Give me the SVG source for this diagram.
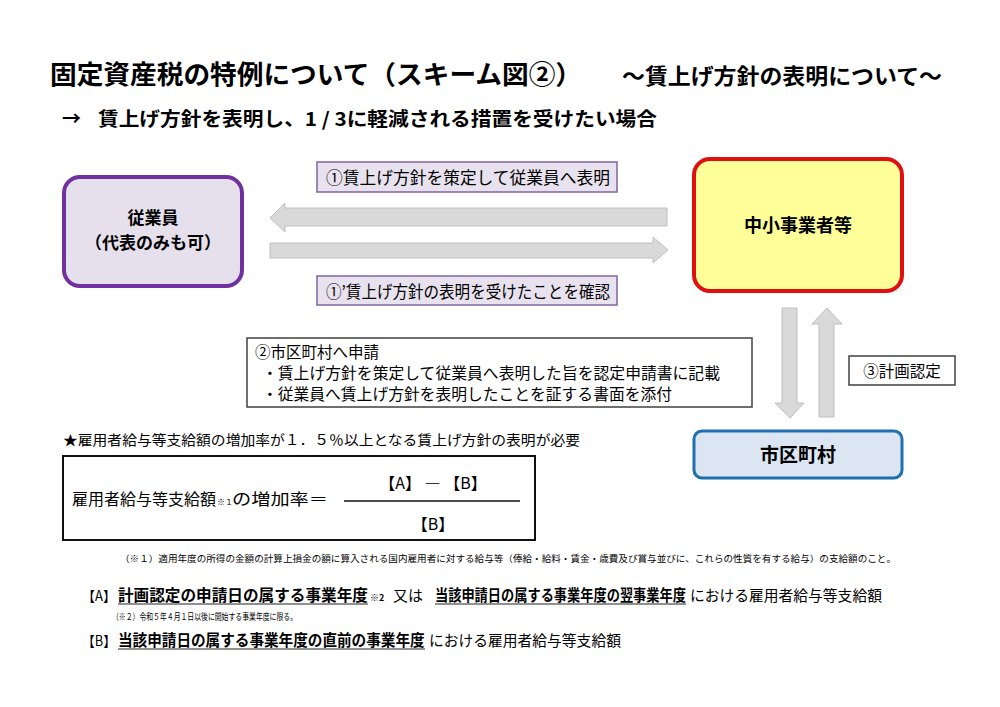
<svg xmlns="http://www.w3.org/2000/svg" width="1000" height="707" viewBox="0 0 1000 707">
<style>
text{font-family:"Noto Sans CJK JP","Noto Sans",sans-serif;fill:#000}
.b{font-weight:bold}
.lbl{fill:#E8E2EF;stroke:#7F65A0;stroke-width:1.5}
.arr{fill:#D9D9D9;stroke:#BFBFBF;stroke-width:1}
.box{fill:#fff;stroke:#404040;stroke-width:1.5}
.ul{stroke:#222;stroke-width:1.2}
</style>
<rect width="1000" height="707" fill="#fff"/>
<g id="title">
<text x="50" y="84" class="b" font-size="26" textLength="532" lengthAdjust="spacingAndGlyphs">固定資産税の特例について（スキーム図②）</text>
<text x="622" y="84" class="b" font-size="22" textLength="320" lengthAdjust="spacingAndGlyphs">～賃上げ方針の表明について～</text>
<text x="62" y="126" class="b" font-size="19">→</text>
<text x="98" y="126" class="b" font-size="19" textLength="559" lengthAdjust="spacingAndGlyphs">賃上げ方針を表明し、1 / 3に軽減される措置を受けたい場合</text>
</g>
<g id="connectors">
<polygon class="arr" points="667,208 285,208 285,203 270,218 285,232 285,226 667,226"/>
<polygon class="arr" points="270,243 653,243 653,237 668,250 653,263 653,258 270,258"/>
<polygon class="arr" points="782,308 797,308 797,403 804,403 790,418 775,403 782,403"/>
<polygon class="arr" points="819,417 834,417 834,324 842,324 827,308 812,324 819,324"/>
</g>
<g id="employee">
<rect x="64" y="177" width="178" height="109" rx="16" fill="#E6E0EC" stroke="#7030A0" stroke-width="4"/>
<text x="153" y="224" class="b" font-size="17" text-anchor="middle">従業員</text>
<text x="153" y="249" class="b" font-size="17" text-anchor="middle">（代表のみも可）</text>
</g>
<g id="label1">
<rect class="lbl" x="317" y="162" width="300" height="30"/>
<text x="326" y="184" font-size="16.5" textLength="284" lengthAdjust="spacingAndGlyphs">①賃上げ方針を策定して従業員へ表明</text>
</g>
<g id="label2">
<rect class="lbl" x="317" y="276" width="300" height="29"/>
<text x="326" y="298" font-size="16.5" textLength="284" lengthAdjust="spacingAndGlyphs">①’賃上げ方針の表明を受けたことを確認</text>
</g>
<g id="sme">
<rect x="694" y="159" width="208" height="132" rx="16" fill="#FFFF99" stroke="#E01010" stroke-width="4"/>
<text x="798" y="232" class="b" font-size="18" text-anchor="middle">中小事業者等</text>
</g>
<g id="application">
<rect class="box" x="247" y="338" width="505" height="69"/>
<text x="255" y="358" font-size="15.5">②市区町村へ申請</text>
<text x="262" y="379" font-size="15.5" textLength="458" lengthAdjust="spacingAndGlyphs">・賃上げ方針を策定して従業員へ表明した旨を認定申請書に記載</text>
<text x="262" y="400" font-size="15.5" textLength="410" lengthAdjust="spacingAndGlyphs">・従業員へ賃上げ方針を表明したことを証する書面を添付</text>
</g>
<g id="approval">
<rect class="box" x="849" y="356" width="106" height="29"/>
<text x="902" y="377" font-size="15.5" text-anchor="middle">③計画認定</text>
</g>
<g id="municipality">
<rect x="694" y="431" width="208" height="47" rx="8" fill="#DCE6F2" stroke="#1F70B0" stroke-width="3"/>
<text x="798" y="462" class="b" font-size="19" text-anchor="middle">市区町村</text>
</g>
<g id="formula">
<text x="63" y="445" font-size="14" textLength="517" lengthAdjust="spacingAndGlyphs">★雇用者給与等支給額の増加率が１．５％以上となる賃上げ方針の表明が必要</text>
<rect x="63" y="456" width="472" height="84" fill="#fff" stroke="#111" stroke-width="2"/>
<text x="72" y="505" font-size="15.5" textLength="144" lengthAdjust="spacingAndGlyphs">雇用者給与等支給額</text>
<text x="217" y="505" font-size="8">※１</text>
<text x="232" y="505" font-size="15.5" textLength="96" lengthAdjust="spacingAndGlyphs">の増加率＝</text>
<line x1="344" y1="501" x2="520" y2="501" stroke="#111" stroke-width="1.5"/>
<text x="433" y="489" font-size="16" text-anchor="middle">【A】 ― 【B】</text>
<text x="433" y="530" font-size="16" text-anchor="middle">【B】</text>
</g>
<g id="notes">
<text x="120" y="562" font-size="9" textLength="776" lengthAdjust="spacingAndGlyphs">（※１）適用年度の所得の金額の計算上損金の額に算入される国内雇用者に対する給与等（俸給・給料・賃金・歳費及び賞与並びに、これらの性質を有する給与）の支給額のこと。</text>
<text x="82" y="601" font-size="14" textLength="34" lengthAdjust="spacingAndGlyphs">【A】</text>
<text x="118" y="601" class="b" font-size="15.5" textLength="250" lengthAdjust="spacingAndGlyphs">計画認定の申請日の属する事業年度</text>
<text x="370" y="601" class="b" font-size="9">※2</text>
<text x="393" y="601" font-size="15">又は</text>
<text transform="translate(435 601) scale(0.853 1)" x="0" y="0" class="b" font-size="15.5">当該申請日の属する事業年度の翌事業年度</text>
<text transform="translate(690 601) scale(0.985 1)" x="0" y="0" font-size="15">における雇用者給与等支給額</text>
<line class="ul" x1="118" y1="604" x2="368" y2="604"/>
<line class="ul" x1="435" y1="604" x2="686" y2="604"/>
<text x="112" y="620" font-size="9" textLength="185" lengthAdjust="spacingAndGlyphs">（※２）令和５年４月１日以後に開始する事業年度に限る。</text>
<text x="82" y="646" font-size="14" textLength="34" lengthAdjust="spacingAndGlyphs">【B】</text>
<text transform="translate(118 646) scale(0.943 1)" x="0" y="0" class="b" font-size="15.5">当該申請日の属する事業年度の直前の事業年度</text>
<text transform="translate(429 646) scale(0.985 1)" x="0" y="0" font-size="15">における雇用者給与等支給額</text>
<line class="ul" x1="118" y1="649" x2="425" y2="649"/>
</g>
</svg>
